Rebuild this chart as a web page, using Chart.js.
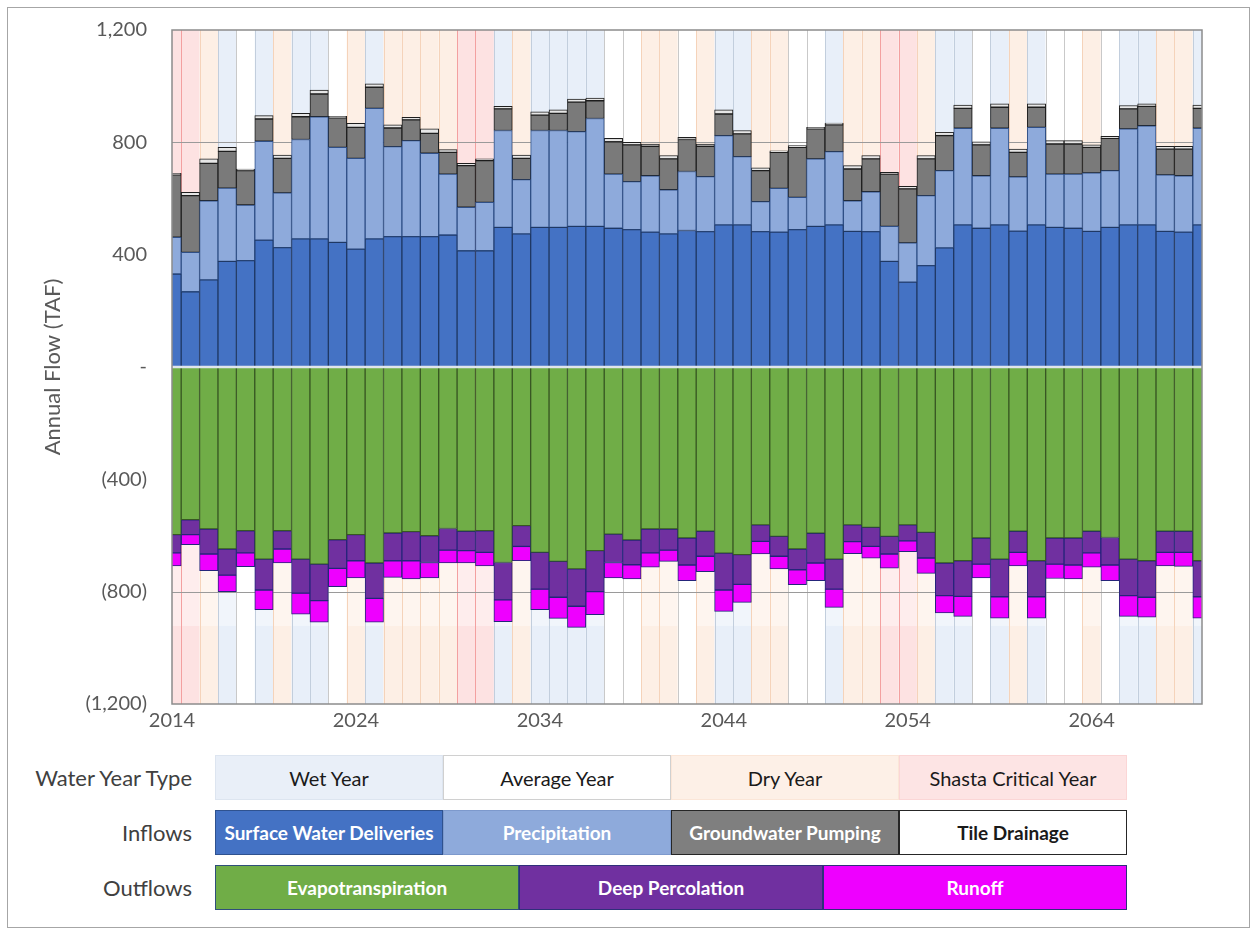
<!DOCTYPE html>
<html>
<head>
<meta charset="utf-8">
<script src="https://cdn.jsdelivr.net/npm/chart.js@4.4.0/dist/chart.umd.min.js"></script>
<style>
  html, body { margin: 0; padding: 0; background: #ffffff; }
  body { width: 1257px; height: 935px; overflow: hidden; position: relative; font-family: Lato, "Open Sans", sans-serif; }
  #frame { position: absolute; left: 7px; top: 7px; width: 1243px; height: 921px; border: 1px solid #a6a6a6; box-sizing: border-box; }
  #wrap { position: absolute; left: 0; top: 0; width: 1257px; height: 745px; }
  .rowlabel { position: absolute; width: 185px; left: 7px; text-align: right; font-size: 22px; color: #404040; line-height: 22px; }
  .box { position: absolute; box-sizing: border-box; display: flex; align-items: center; justify-content: center; white-space: nowrap; }
</style>
</head>
<body>
<div id="frame"></div>
<div id="wrap"><canvas id="c"></canvas></div>
<div id="legend"></div>
<script>
// ---------------- data ----------------
const years = ['2014','2015','2016','2017','2018','2019','2020','2021','2022','2023',
  '2024','2025','2026','2027','2028','2029','2030','2031','2032','2033',
  '2034','2035','2036','2037','2038','2039','2040','2041','2042','2043',
  '2044','2045','2046','2047','2048','2049','2050','2051','2052','2053',
  '2054','2055','2056','2057','2058','2059','2060','2061','2062','2063',
  '2064','2065','2066','2067','2068','2069','2070'];
const xTickYears = ['2014','2024','2034','2044','2054','2064'];
// W = wet, A = average, D = dry, C = Shasta critical
const yearType = ['C','C','D','W','A','W','D','W','W','A',
  'D','W','D','D','D','D','C','C','W','D',
  'W','W','W','W','A','A','D','D','A','D',
  'W','W','D','D','A','A','W','D','D','C',
  'C','D','W','W','A','W','D','W','A','A',
  'D','A','W','W','D','D','W'];
const surfaceWater = [331,268,310,376,379,452,425,456,456,444,
  420,456,464,464,464,470,414,414,497,474,
  497,497,501,501,494,489,480,474,486,482,
  506,506,482,480,489,501,506,483,482,376,
  302,361,424,506,494,506,484,506,497,494,
  483,497,506,506,483,480,506];
const precipitation = [131,140,282,261,198,352,195,354,435,338,
  323,465,321,342,297,217,155,172,345,193,
  345,345,337,384,193,171,201,157,210,196,
  318,243,107,156,115,240,261,109,142,125,
  140,249,275,344,187,344,193,347,190,193,
  208,202,342,353,201,201,344];
const groundwater = [222,202,133,131,122,79,123,81,81,105,
  110,75,66,74,71,77,148,149,77,76,
  55,61,105,63,115,131,105,110,114,108,
  77,81,110,128,178,107,95,113,117,186,
  192,131,125,71,110,75,87,72,107,107,
  91,115,71,69,92,95,71];
const tileDrainage = [6,12,16,14,6,12,12,12,14,6,
  15,12,11,9,16,10,8,6,9,12,
  12,13,11,10,12,9,8,12,8,8,
  15,12,10,6,6,5,7,12,12,6,
  9,12,12,12,11,12,12,12,12,12,
  9,7,12,9,10,10,12];
const evapotranspiration = [-597,-544,-577,-648,-583,-684,-583,-684,-702,-615,
  -597,-698,-591,-586,-601,-575,-585,-583,-696,-565,
  -660,-692,-719,-654,-595,-616,-577,-577,-609,-585,
  -663,-668,-562,-603,-648,-592,-684,-562,-571,-603,
  -562,-589,-698,-690,-609,-684,-585,-690,-609,-609,
  -585,-607,-684,-690,-585,-585,-690];
const deepPercolation = [-65,-53,-89,-93,-79,-110,-65,-121,-130,-102,
  -93,-126,-99,-104,-95,-77,-69,-77,-133,-74,
  -131,-128,-133,-146,-101,-88,-85,-75,-96,-89,
  -131,-106,-59,-71,-74,-106,-107,-60,-68,-63,
  -57,-91,-116,-127,-93,-134,-75,-128,-93,-96,
  -77,-98,-130,-130,-75,-75,-128];
const runoff = [-46,-36,-59,-59,-49,-70,-50,-75,-77,-65,
  -61,-85,-59,-65,-55,-46,-44,-48,-78,-51,
  -73,-75,-75,-82,-55,-51,-51,-40,-56,-55,
  -76,-64,-45,-45,-53,-63,-65,-43,-42,-50,
  -39,-55,-62,-71,-49,-76,-48,-76,-51,-50,
  -51,-56,-74,-71,-48,-50,-76];
const yTicks = [1200, 800, 400, 0, -400, -800, -1200];
const gridValues = [800, -800];
const yMin = -1200, yMax = 1200;
const lightZoneBottom = -922;

// ---------------- styles ----------------
const bandFill = { W: '#e8eff9', A: '#ffffff', D: '#fdefe5', C: '#fde2e2' };
const bandLine = { W: '#c2cedd', A: '#c9c9c9', D: '#f5d3ba', C: '#f3a0a0' };
const TXT = '#595959';
const FONT = 'Lato, "Open Sans", sans-serif';

const bandsPlugin = {
  id: 'bands',
  beforeDatasetsDraw(chart) {
    const { ctx, chartArea: a, scales: { x, y } } = chart;
    const w = (x.getPixelForValue(1) - x.getPixelForValue(0));
    ctx.save();
    ctx.beginPath();
    ctx.rect(a.left, a.top, a.right - a.left, a.bottom - a.top);
    ctx.clip();
    const yTop = y.getPixelForValue(yMax), yBot = y.getPixelForValue(yMin);
    const yL0 = y.getPixelForValue(0), yL1 = y.getPixelForValue(lightZoneBottom);
    yearType.forEach((t, i) => {
      const cx = x.getPixelForValue(i);
      const l = cx - w / 2;
      ctx.fillStyle = bandFill[t];
      ctx.fillRect(l, yTop, w, yBot - yTop);
      ctx.fillStyle = 'rgba(255,255,255,0.4)';
      ctx.fillRect(l, yL0, w, yL1 - yL0);
    });
    ctx.lineWidth = 1;
    yearType.forEach((t, i) => {
      const cx = x.getPixelForValue(i);
      const l = Math.round(cx - w / 2) + 0.5, r = Math.round(cx + w / 2) + 0.5;
      ctx.strokeStyle = bandLine[t];
      ctx.beginPath();
      ctx.moveTo(l, yTop); ctx.lineTo(l, yBot);
      ctx.moveTo(r, yTop); ctx.lineTo(r, yBot);
      ctx.stroke();
    });
    ctx.strokeStyle = '#9a9a9a';
    ctx.lineWidth = 1;
    gridValues.forEach(v => {
      const py = Math.round(y.getPixelForValue(v)) + 0.5;
      ctx.beginPath(); ctx.moveTo(a.left, py); ctx.lineTo(a.right, py); ctx.stroke();
    });
    ctx.restore();
  },
  afterDatasetsDraw(chart) {
    const { ctx, chartArea: a, scales: { y } } = chart;
    ctx.save();
    ctx.strokeStyle = '#dfe5ec';
    ctx.lineWidth = 2.5;
    const py = y.getPixelForValue(0);
    ctx.beginPath(); ctx.moveTo(a.left, py); ctx.lineTo(a.right, py); ctx.stroke();
    ctx.strokeStyle = '#8c8c8c';
    ctx.lineWidth = 1.5;
    ctx.strokeRect(a.left, a.top, a.right - a.left, a.bottom - a.top);
    ctx.restore();
  }
};

function ds(label, data, bg, border) {
  return { label, data, backgroundColor: bg, borderColor: border, borderWidth: 1,
    borderSkipped: false, barPercentage: 1, categoryPercentage: 1, clip: 0 };
}

const fmt = v => {
  if (v === 0) return '-';
  const s = Math.abs(v).toLocaleString('en-US');
  return v < 0 ? '(' + s + ')' : s;
};

new Chart(document.getElementById('c'), {
  type: 'bar',
  data: {
    labels: years,
    datasets: [
      ds('Surface Water Deliveries', surfaceWater, '#4472c4', '#1f3864'),
      ds('Precipitation', precipitation, '#8eaadb', '#2f4f86'),
      ds('Groundwater Pumping', groundwater, '#7a7a7a', '#1e1e1e'),
      ds('Tile Drainage', tileDrainage, '#e6e6e6', '#1e1e1e'),
      ds('Evapotranspiration', evapotranspiration, '#70ad47', '#385723'),
      ds('Deep Percolation', deepPercolation, '#7030a0', '#25257a'),
      ds('Runoff', runoff, '#ee00ff', '#25257a')
    ]
  },
  options: {
    responsive: true,
    maintainAspectRatio: false,
    animation: false,
    layout: { padding: { left: 40, top: 30, right: 55, bottom: 0 } },
    plugins: { legend: { display: false }, tooltip: { enabled: false } },
    scales: {
      x: {
        type: 'category',
        stacked: true,
        offset: false,
        grid: { display: false, drawTicks: false },
        border: { display: false },
        ticks: {
          autoSkip: false, maxRotation: 0, minRotation: 0, padding: 5,
          color: TXT, font: { family: FONT, size: 20 },
          callback: function (v, i) { return xTickYears.includes(years[i]) ? years[i] : ''; }
        },
        afterFit: s => { s.height = 41; s.paddingLeft = 0; s.paddingRight = 0; }
      },
      y: {
        stacked: true,
        min: yMin, max: yMax,
        grid: { display: false, drawTicks: false },
        border: { display: false },
        afterBuildTicks: s => { s.ticks = yTicks.map(v => ({ value: v })); },
        ticks: { padding: 25, color: TXT, font: { family: FONT, size: 20 }, callback: v => fmt(v) },
        title: { display: true, text: 'Annual Flow (TAF)', color: TXT, font: { family: FONT, size: 22 }, padding: { top: 0, bottom: 0 } },
        afterFit: s => { s.width = 132; s.paddingTop = 0; s.paddingBottom = 0; }
      }
    }
  },
  plugins: [bandsPlugin]
});

// ---------------- legend ----------------
const legendRows = [
  { label: 'Water Year Type', top: 755,
    items: [
      { text: 'Wet Year', bg: '#e9eff8', border: '#dde5f0', color: '#1a1a1a', weight: 400 },
      { text: 'Average Year', bg: '#ffffff', border: '#d0d0d0', color: '#1a1a1a', weight: 400 },
      { text: 'Dry Year', bg: '#fdf0e7', border: '#fbe6d8', color: '#1a1a1a', weight: 400 },
      { text: 'Shasta Critical Year', bg: '#fde4e4', border: '#fbd6d6', color: '#1a1a1a', weight: 400 }
    ] },
  { label: 'Inflows', top: 810,
    items: [
      { text: 'Surface Water Deliveries', bg: '#4472c4', border: '#2f528f', color: '#ffffff', weight: 700 },
      { text: 'Precipitation', bg: '#8eaadb', border: '#7d99cc', color: '#ffffff', weight: 700 },
      { text: 'Groundwater Pumping', bg: '#7f7f7f', border: '#262626', color: '#ffffff', weight: 700 },
      { text: 'Tile Drainage', bg: '#ffffff', border: '#262626', color: '#1a1a1a', weight: 700 }
    ] },
  { label: 'Outflows', top: 865,
    items: [
      { text: 'Evapotranspiration', bg: '#70ad47', border: '#2f4f7a', color: '#ffffff', weight: 700 },
      { text: 'Deep Percolation', bg: '#7030a0', border: '#2f2f7a', color: '#ffffff', weight: 700 },
      { text: 'Runoff', bg: '#ee00ff', border: '#2f2f7a', color: '#ffffff', weight: 700 }
    ] }
];
const legendLeft = 215, legendRight = 1127, rowH = 45;
const legendEl = document.getElementById('legend');
legendRows.forEach(row => {
  const lab = document.createElement('div');
  lab.className = 'rowlabel';
  lab.style.top = (row.top + rowH / 2 - 11) + 'px';
  lab.textContent = row.label;
  legendEl.appendChild(lab);
  const w = (legendRight - legendLeft) / row.items.length;
  row.items.forEach((it, k) => {
    const b = document.createElement('div');
    b.className = 'box';
    b.style.left = (legendLeft + k * w) + 'px';
    b.style.top = row.top + 'px';
    b.style.width = w + 'px';
    b.style.height = rowH + 'px';
    b.style.background = it.bg;
    b.style.border = '1.5px solid ' + it.border;
    b.style.color = it.color;
    b.style.fontWeight = it.weight;
    b.style.fontSize = (it.weight === 700 ? 19 : 20) + 'px';
    b.textContent = it.text;
    legendEl.appendChild(b);
  });
});
</script>
</body>
</html>
